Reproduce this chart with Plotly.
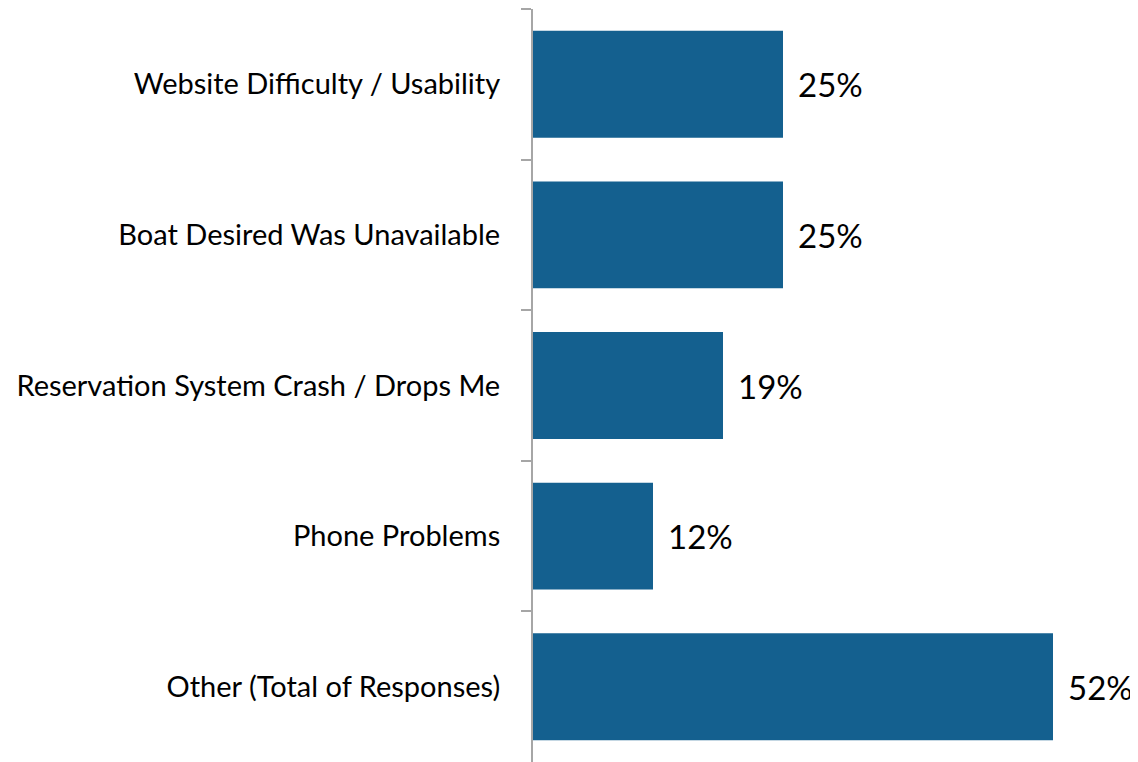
import plotly.graph_objects as go

# survey categories and share of responses (%)
categories = [
    'Website Difficulty / Usability',
    'Boat Desired Was Unavailable',
    'Reservation System Crash / Drops Me',
    'Phone Problems',
    'Other (Total of Responses)',
]
values = [25, 25, 19, 12, 52]
labels = ['25%', '25%', '19%', '12%', '52%']

BAR_COLOR = '#14608F'
AXIS_COLOR = '#A6A6A6'
FONT = 'Lato'

fig = go.Figure(go.Bar(
    x=values,
    y=categories,
    orientation='h',
    marker=dict(color=BAR_COLOR, line=dict(width=0)),
    showlegend=False,
))

# value labels to the right of each bar
for cat, val, lab in zip(categories, values, labels):
    fig.add_annotation(
        x=val, y=cat, xref='x', yref='y',
        text=lab, showarrow=False,
        xanchor='left', xshift=13,
        font=dict(family=FONT, size=33, color='black'),
    )

# page adds an 8px body margin, so the figure is shifted accordingly
fig.update_layout(
    width=1130,
    height=754,
    margin=dict(l=525, r=5, t=1, b=0),
    plot_bgcolor='white',
    paper_bgcolor='white',
    bargap=0.29,
    font=dict(family=FONT, size=29, color='black'),
)

fig.update_xaxes(range=[0, 60], visible=False)

fig.update_yaxes(
    autorange='reversed',
    showline=True,
    linecolor=AXIS_COLOR,
    linewidth=2,
    ticks='outside',
    tickson='boundaries',
    ticklen=10,
    tickwidth=2,
    tickcolor=AXIS_COLOR,
    ticklabelstandoff=25,
    showgrid=False,
    tickfont=dict(family=FONT, size=29, color='black'),
)

fig.write_html('out.html')
